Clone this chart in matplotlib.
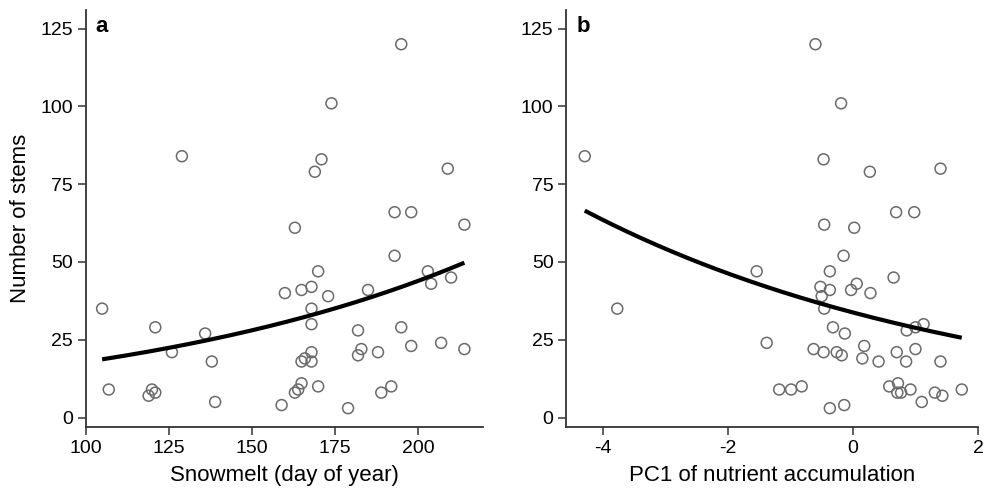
import numpy as np
import matplotlib
matplotlib.use("Agg")
import matplotlib.pyplot as plt

plt.rcParams['font.family'] = ['Liberation Sans', 'DejaVu Sans']
plt.rcParams['axes.unicode_minus'] = False

# Panel a: snowmelt day vs number of stems
snowmelt_day = [129, 195, 174, 171, 169, 209, 193, 198, 163, 214,
                193, 203, 204, 210, 170, 160, 165, 168, 173, 185,
                105, 168, 168, 121, 136, 182, 195, 198, 207, 214,
                126, 138, 168, 165, 166, 168, 183, 182, 188, 107,
                120, 121, 119, 139, 165, 164, 163, 170, 159, 179,
                189, 192]
stems_a = [84, 120, 101, 83, 79, 80, 66, 66, 61, 62,
           52, 47, 43, 45, 47, 40, 41, 42, 39, 41,
           35, 35, 30, 29, 27, 28, 29, 23, 24, 22,
           21, 18, 21, 18, 19, 18, 22, 20, 21, 9,
           9, 8, 7, 5, 11, 9, 8, 10, 4, 3,
           8, 10]

# Panel b: PC1 of nutrient accumulation vs number of stems
pc1 = [-4.29, -0.60, -0.19, -0.47, 0.27, 1.40, 0.69, 0.98, -0.46, 0.02,
       -0.15, -1.54, -0.37, 0.65, -0.52, -0.37, 0.06, -0.03, 0.28, -0.50,
       -3.77, -0.46, -0.32, -0.13, 0.86, 1.00, 1.13, -1.38, -0.63, -0.47,
       -0.26, -0.18, 0.18, 0.15, 0.41, 0.70, 1.00, 0.85, 1.40, -1.18,
       -0.99, -0.82, -0.37, -0.14, 0.58, 0.72, 0.71, 0.77, 0.92, 1.10,
       1.31, 1.43, 1.74]
stems_b = [84, 120, 101, 83, 79, 80, 66, 66, 62, 61,
           52, 47, 47, 45, 42, 41, 43, 41, 40, 39,
           35, 35, 29, 27, 28, 29, 30, 24, 22, 21,
           21, 20, 23, 19, 18, 21, 22, 18, 18, 9,
           9, 10, 3, 4, 10, 11, 8, 8, 9, 5,
           8, 7, 9]

# Fitted log-link curves: stems = exp(b0 + b1 * x)
fit_a_b0 = np.log(18.7) - 0.00898 * 105
fit_a_b1 = 0.00898
fit_b_b0 = np.log(66.5) + 0.158 * (-4.29)
fit_b_b1 = -0.158

x_ticks_a = [100, 125, 150, 175, 200]
x_ticks_b = [-4, -2, 0, 2]
y_ticks = [0, 25, 50, 75, 100, 125]

W, H = 991, 494
fig = plt.figure(figsize=(W / 100, H / 100), dpi=100)
ax_a = fig.add_axes([85.5 / W, (H - 427) / H, (483 - 85.5) / W, (427 - 10) / H])
ax_b = fig.add_axes([566 / W, (H - 427) / H, (978 - 566) / W, (427 - 10) / H])

spine_col = '#333333'
for ax, xs, ys, b0, b1, xt, xlim, lab, letter in [
    (ax_a, snowmelt_day, stems_a, fit_a_b0, fit_a_b1, x_ticks_a, (100, 219.6),
     'Snowmelt (day of year)', 'a'),
    (ax_b, pc1, stems_b, fit_b_b0, fit_b_b1, x_ticks_b, (-4.59, 2.0),
     'PC1 of nutrient accumulation', 'b')]:
    ax.scatter(xs, ys, s=62, facecolors='none', edgecolors='#6a6a6a',
               linewidths=1.1, zorder=2)
    xx = np.linspace(min(xs), max(xs), 200)
    ax.plot(xx, np.exp(b0 + b1 * xx), color='black', lw=3.0,
            solid_capstyle='butt', zorder=3)
    ax.set_xlim(*xlim)
    ax.set_ylim(-3.05, 131)
    ax.set_xticks(xt)
    ax.set_yticks(y_ticks)
    for s in ['top', 'right']:
        ax.spines[s].set_visible(False)
    for s in ['left', 'bottom']:
        ax.spines[s].set_color(spine_col)
        ax.spines[s].set_linewidth(1.3)
    ax.tick_params(axis='both', direction='out', length=6, width=1.1,
                   color=spine_col, labelsize=14, pad=3)
    ax.set_xlabel(lab, fontsize=16, labelpad=6)
    ax.text(0.025, 0.985, letter, transform=ax.transAxes, fontsize=16,
            fontweight='bold', va='top', ha='left')

ax_a.set_ylabel('Number of stems', fontsize=16, labelpad=7)

fig.savefig('out.png', dpi=100)
